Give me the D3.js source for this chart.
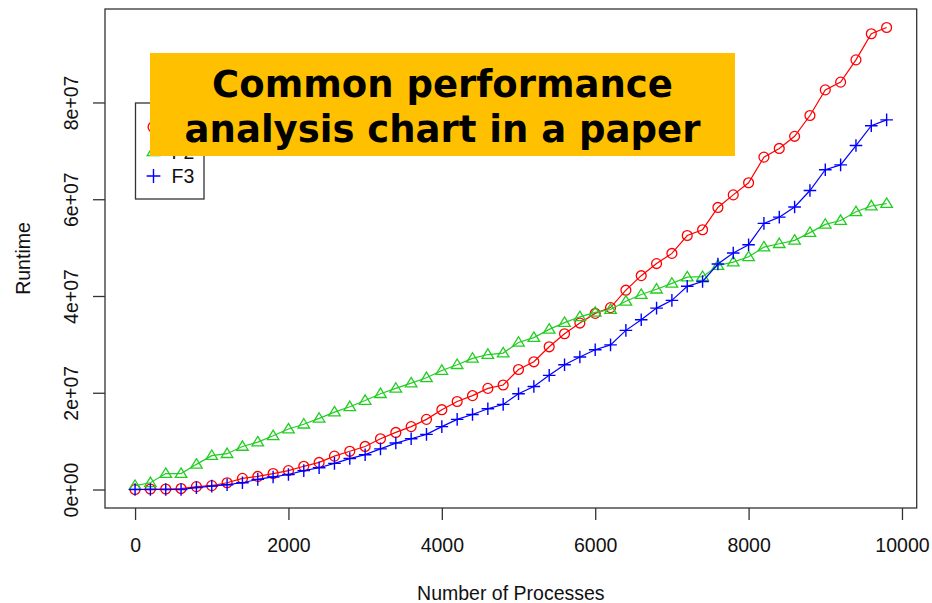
<!DOCTYPE html>
<html>
<head>
<meta charset="utf-8">
<script src="https://cdn.jsdelivr.net/npm/d3@7"></script>
<style>
  body { margin: 0; background: #fff; }
  svg text { font-family: "Liberation Sans", Arial, sans-serif; }
</style>
</head>
<body>
<div id="main-chart"></div>
<script>
const width = 932, height = 603;

// number of processes (x)
const processes = [0, 200, 400, 600, 800, 1000, 1200, 1400, 1600, 1800,
    2000, 2200, 2400, 2600, 2800, 3000, 3200, 3400, 3600, 3800,
    4000, 4200, 4400, 4600, 4800, 5000, 5200, 5400, 5600, 5800,
    6000, 6200, 6400, 6600, 6800, 7000, 7200, 7400, 7600, 7800,
    8000, 8200, 8400, 8600, 8800, 9000, 9200, 9400, 9600, 9800];

// runtimes in millions
const f1 = [0, 0.1, 0.1, 0.2, 0.6, 0.8, 1.4, 2.3, 2.7, 3.3,
    3.9, 4.8, 5.6, 6.9, 7.9, 8.9, 10.5, 11.8, 13.0, 14.5,
    16.5, 18.2, 19.4, 20.9, 21.6, 24.8, 26.4, 29.5, 32.2, 34.4,
    36.4, 37.6, 41.2, 44.2, 46.7, 48.8, 52.5, 53.7, 58.3, 60.9,
    63.4, 68.7, 70.5, 73.0, 77.3, 82.6, 84.2, 88.8, 94.2, 95.5];
const f2 = [0.8, 1.4, 3.3, 3.3, 5.2, 7.0, 7.4, 8.9, 9.8, 11.1,
    12.5, 13.5, 14.7, 16.0, 17.1, 18.4, 19.8, 20.9, 22.0, 23.1,
    24.6, 25.8, 27.1, 27.9, 28.2, 30.4, 31.4, 33.1, 34.5, 35.7,
    36.6, 37.2, 38.9, 40.3, 41.4, 42.6, 43.9, 44.0, 46.3, 47.0,
    48.1, 50.1, 50.8, 51.5, 53.1, 54.8, 55.6, 57.4, 58.6, 59.1];
const f3 = [0, 0, 0, 0, 0.4, 0.7, 1.0, 1.4, 2.1, 2.6,
    3.1, 3.9, 4.5, 5.4, 6.4, 7.2, 8.4, 9.6, 10.5, 11.4,
    13.0, 14.5, 15.5, 16.7, 17.6, 19.8, 21.3, 23.6, 25.8, 27.4,
    28.9, 29.9, 32.9, 35.1, 37.5, 39.1, 42.0, 43.0, 46.6, 48.9,
    50.6, 55.0, 56.3, 58.4, 61.8, 66.1, 67.1, 71.1, 75.2, 76.4];

const seriesNames = ["F1", "F2", "F3"];
const seriesColors = ["#ff0000", "#22cd22", "#0000ff"];
const seriesShapes = ["circle", "triangle", "plus"];

const xTicks = [0, 2000, 4000, 6000, 8000, 10000];
const yTicks = [0, 20e6, 40e6, 60e6, 80e6];
const yTickLabels = ["0e+00", "2e+07", "4e+07", "6e+07", "8e+07"];

const titleLines = ["Common performance", "analysis chart in a paper"];

const box = { left: 105, top: 9, right: 916.7, bottom: 508 };

const series = [f1, f2, f3].map((vals, k) => ({
    name: seriesNames[k],
    color: seriesColors[k],
    shape: seriesShapes[k],
    values: vals.map((v, i) => ({ x: processes[i], y: v * 1e6 }))
}));

// R style 4% padding on both axes
const xExt = d3.extent(processes);
const yMax = d3.max(series, s => d3.max(s.values, d => d.y));
const xPad = (xExt[1] - xExt[0]) * 0.04, yPad = yMax * 0.04;

const x = d3.scaleLinear().domain([xExt[0] - xPad, xExt[1] + xPad]).range([box.left, box.right]);
const y = d3.scaleLinear().domain([-yPad, yMax + yPad]).range([box.bottom, box.top]);

const svg = d3.select("#main-chart").append("svg")
    .attr("width", width)
    .attr("height", height);

const fontSize = "19.5px";

// x axis
const gx = svg.append("g")
    .attr("transform", `translate(0,${box.bottom})`)
    .call(d3.axisBottom(x).tickValues(xTicks).tickFormat(d3.format("d")).tickSize(12).tickPadding(10));
gx.select(".domain").remove();
gx.selectAll("line").attr("stroke", "#333").attr("stroke-width", 1.3);
gx.selectAll("text").attr("fill", "#111").style("font-size", fontSize).attr("dy", 0).attr("y", 44);

// y axis
const gy = svg.append("g")
    .attr("transform", `translate(${box.left},0)`)
    .call(d3.axisLeft(y).tickValues(yTicks).tickFormat((d, i) => yTickLabels[i]).tickSize(12));
gy.select(".domain").remove();
gy.selectAll("line").attr("stroke", "#333").attr("stroke-width", 1.3);
gy.selectAll("text")
    .attr("x", 0).attr("y", 0).attr("dy", 0)
    .attr("transform", "translate(-27,0) rotate(-90)")
    .attr("text-anchor", "middle")
    .attr("fill", "#111")
    .style("font-size", fontSize);

// plot box
svg.append("rect")
    .attr("x", box.left).attr("y", box.top)
    .attr("width", box.right - box.left).attr("height", box.bottom - box.top)
    .attr("fill", "none").attr("stroke", "#333").attr("stroke-width", 1.3);

svg.append("text")
    .attr("x", (box.left + box.right) / 2).attr("y", 600)
    .attr("text-anchor", "middle")
    .style("font-size", fontSize).attr("fill", "#111")
    .text("Number of Processes");

svg.append("text")
    .attr("transform", `translate(30,${(box.top + box.bottom) / 2}) rotate(-90)`)
    .attr("text-anchor", "middle")
    .style("font-size", fontSize).attr("fill", "#111")
    .text("Runtime");

function drawMarker(g, shape, color, size) {
    if (shape === "circle") {
        g.append("circle").attr("r", size * 0.47).attr("fill", "none")
            .attr("stroke", color).attr("stroke-width", 1.3);
    } else if (shape === "triangle") {
        const h = size * 0.9, w = size * 1.1;
        g.append("path")
            .attr("d", `M0,${-h * 0.6}L${w / 2},${h * 0.4}L${-w / 2},${h * 0.4}Z`)
            .attr("fill", "none").attr("stroke", color).attr("stroke-width", 1.3);
    } else {
        const a = size * 0.6;
        g.append("path")
            .attr("d", `M${-a},0H${a}M0,${-a}V${a}`)
            .attr("stroke", color).attr("stroke-width", 1.4);
    }
}

const line = d3.line().x(d => x(d.x)).y(d => y(d.y));

series.forEach(s => {
    svg.append("path")
        .datum(s.values)
        .attr("fill", "none")
        .attr("stroke", s.color)
        .attr("stroke-width", 1.2)
        .attr("d", line);

    svg.append("g").selectAll("g")
        .data(s.values)
        .enter().append("g")
        .attr("transform", d => `translate(${x(d.x)},${y(d.y)})`)
        .each(function () { drawMarker(d3.select(this), s.shape, s.color, 10.5); });
});

// legend
const legend = svg.append("g");
legend.append("rect")
    .attr("x", 135.5).attr("y", 103).attr("width", 68.5).attr("height", 96)
    .attr("fill", "#fff").attr("stroke", "#333").attr("stroke-width", 1.3);
series.forEach((s, i) => {
    const ly = 127 + i * 24.5;
    drawMarker(legend.append("g").attr("transform", `translate(153.5,${ly})`), s.shape, s.color, 11.5);
    legend.append("text")
        .attr("x", 171.5).attr("y", ly + 7)
        .style("font-size", fontSize).attr("fill", "#111")
        .text(s.name);
});

// title banner
svg.append("rect")
    .attr("x", 150).attr("y", 53).attr("width", 585).attr("height", 103)
    .attr("fill", "#ffc000");
svg.append("g").selectAll("text")
    .data(titleLines)
    .enter().append("text")
    .attr("x", 442.5)
    .attr("y", (d, i) => 96.5 + i * 45)
    .attr("text-anchor", "middle")
    .style("font-family", "'DejaVu Sans', Verdana, sans-serif")
    .style("font-weight", "bold")
    .style("font-size", "37px")
    .attr("fill", "#000")
    .text(d => d);
</script>
</body>
</html>
